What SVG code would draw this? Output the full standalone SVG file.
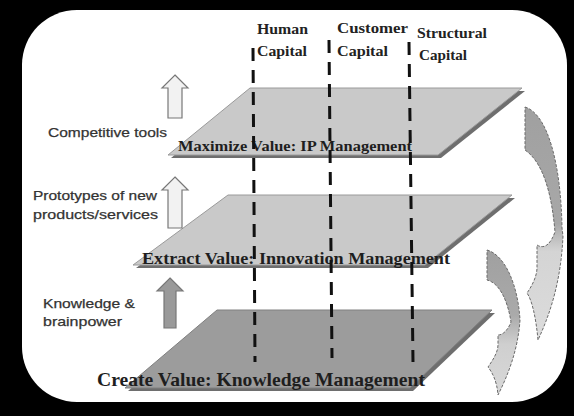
<svg xmlns="http://www.w3.org/2000/svg" width="574" height="416" viewBox="0 0 574 416">
  <defs>
    <style>
      .plane-hi { fill: #c9c9c9; stroke: #9a9a9a; stroke-width: 1; }
      .plane-lo { fill: #9c9c9c; stroke: #808080; stroke-width: 1; }
      .shadow { fill: #6e6e6e; }
      .pl-label { font-family: "Liberation Serif", "Times New Roman", serif; font-weight: bold; fill: #1e1e1e; }
      .col-label { font-family: "Liberation Serif", "Times New Roman", serif; font-weight: bold; font-size: 15px; fill: #222; }
      .side-label { font-family: "Liberation Sans", Arial, sans-serif; font-size: 13px; fill: #333; stroke: #333; stroke-width: 0.25; }
      .col-line { stroke: #111; stroke-width: 3; stroke-dasharray: 13 9; fill: none; }
      .up-hollow { fill: #f2f2f2; stroke: #777; stroke-width: 1.2; }
      .up-solid { fill: #9a9a9a; stroke: #777; stroke-width: 1.2; }
      .cycle { stroke: #6a6a6a; stroke-width: 1; stroke-dasharray: 3 1.5; }
    </style>
    <linearGradient id="cycleFill1" x1="0" y1="0" x2="0" y2="1">
      <stop offset="0" stop-color="#a0a0a0"/>
      <stop offset="0.5" stop-color="#a8a8a8"/>
      <stop offset="0.62" stop-color="#d4d4d4"/>
      <stop offset="1" stop-color="#dcdcdc"/>
    </linearGradient>
    <linearGradient id="cycleFill2" x1="0" y1="0" x2="0" y2="1">
      <stop offset="0" stop-color="#a0a0a0"/>
      <stop offset="0.45" stop-color="#aaaaaa"/>
      <stop offset="0.65" stop-color="#cfcfcf"/>
      <stop offset="1" stop-color="#d8d8d8"/>
    </linearGradient>
  </defs>

  <!-- frame -->
  <rect x="0" y="0" width="574" height="416" fill="#000"/>
  <rect x="22" y="10" width="545" height="392" rx="55" ry="55" fill="#fff"/>

  <!-- value layers -->
  <g id="layer-create">
    <polygon class="shadow" points="220,313 495,313 413,391 128,391"/>
    <polygon class="plane-lo" points="217,310 492,310 410,388 125,388"/>
    <text class="pl-label" x="97" y="386" font-size="19" textLength="328" lengthAdjust="spacingAndGlyphs">Create Value: Knowledge Management</text>
  </g>
  <g id="layer-extract">
    <polygon class="shadow" points="231,198 515,198 428,268 136,268"/>
    <polygon class="plane-hi" points="228,195 512,195 425,265 133,265"/>
    <text class="pl-label" x="142" y="264" font-size="16" textLength="308" lengthAdjust="spacingAndGlyphs">Extract Value: Innovation Management</text>
  </g>
  <g id="layer-maximize">
    <polygon class="shadow" points="253,91 525,91 441,158 171,158"/>
    <polygon class="plane-hi" points="250,88 522,88 438,155 168,155"/>
    <text class="pl-label" x="178" y="151" font-size="15" textLength="234" lengthAdjust="spacingAndGlyphs">Maximize Value: IP Management</text>
  </g>

  <!-- capital columns -->
  <g id="col-human">
    <text class="col-label" x="257" y="34" textLength="51" lengthAdjust="spacingAndGlyphs">Human</text>
    <text class="col-label" x="257" y="56" textLength="50" lengthAdjust="spacingAndGlyphs">Capital</text>
  </g>
  <g id="col-customer">
    <text class="col-label" x="337" y="33" textLength="71" lengthAdjust="spacingAndGlyphs">Customer</text>
    <text class="col-label" x="337" y="56" textLength="51" lengthAdjust="spacingAndGlyphs">Capital</text>
  </g>
  <g id="col-structural">
    <text class="col-label" x="417" y="38" textLength="70" lengthAdjust="spacingAndGlyphs">Structural</text>
    <text class="col-label" x="419" y="60" textLength="48" lengthAdjust="spacingAndGlyphs">Capital</text>
  </g>

  <!-- side annotations with upward arrows -->
  <g id="step-competitive">
    <polygon class="up-hollow" points="175,75 188,88 182,88 182,118 168,118 168,88 162,88"/>
    <text class="side-label" x="48" y="137" textLength="119" lengthAdjust="spacingAndGlyphs">Competitive tools</text>
  </g>
  <g id="step-prototypes">
    <polygon class="up-hollow" points="175,177 188,190 182,190 182,228 168,228 168,190 162,190"/>
    <text class="side-label" x="33" y="200" textLength="124" lengthAdjust="spacingAndGlyphs">Prototypes of new</text>
    <text class="side-label" x="33" y="219" textLength="125" lengthAdjust="spacingAndGlyphs">products/services</text>
  </g>
  <g id="step-knowledge">
    <polygon class="up-solid" points="170,278 183,291 176,291 176,328 164,328 164,291 157,291"/>
    <text class="side-label" x="43" y="308" textLength="92" lengthAdjust="spacingAndGlyphs">Knowledge &amp;</text>
    <text class="side-label" x="43" y="326" textLength="79" lengthAdjust="spacingAndGlyphs">brainpower</text>
  </g>

  <!-- connectors: column lines and cycle arrows -->
  <g id="connectors">
    <line class="col-line" x1="253" y1="48" x2="255" y2="362"/>
    <line class="col-line" x1="329" y1="40" x2="332" y2="358"/>
    <line class="col-line" x1="409" y1="42" x2="413" y2="362"/>

    <path class="cycle" fill="url(#cycleFill1)" d="M525,107 C548,114 561,165 562,228 L563,236 C561,280 551,312 538,340 C536,318 532,300 527,293 C532,286 537,276 537,268 L537,245 C545,250 551,243 555,232 C552,196 544,163 525,150 Z"/>
    <path class="cycle" fill="url(#cycleFill2)" d="M487,250 C505,255 518,285 520,320 C518,350 508,375 498,395 C497,381 492,372 488,367 C493,360 498,352 498,345 L498,335 C503,335 508,330 511,322 C508,302 500,283 487,280 Z"/>
  </g>
</svg>
